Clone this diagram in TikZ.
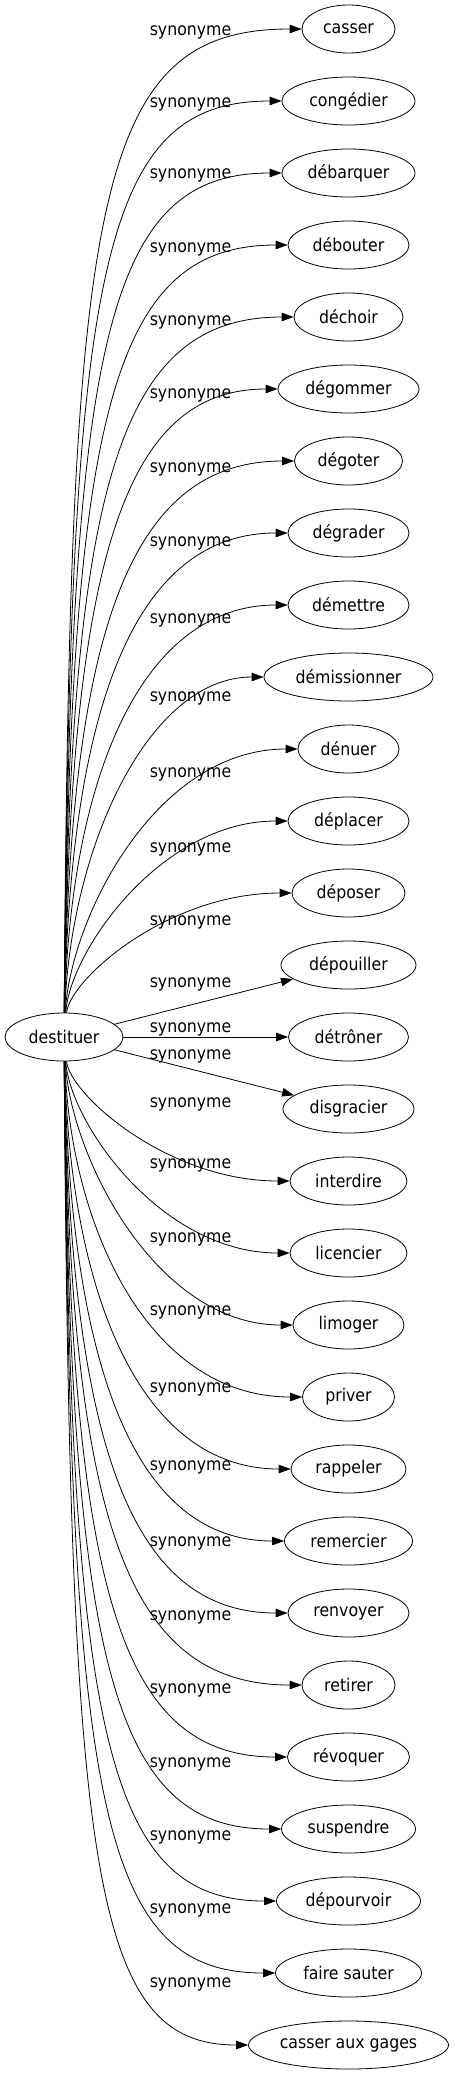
\documentclass[tikz,border=0pt]{standalone}
\usepackage{fontspec}
\setmainfont{DejaVu Sans Condensed}
\usetikzlibrary{arrows.meta,shapes.geometric}

\begin{document}
\begin{tikzpicture}[x=1pt,y=-1pt,
  word/.style={draw,ellipse,minimum height=48pt,inner sep=0pt,line width=0.8pt,font=\fontsize{17.5}{21}\selectfont},
  lbl/.style={inner sep=0pt,anchor=base,font=\fontsize{17.5}{21}\selectfont},
  rel/.style={-{Triangle[length=12pt,width=8.5pt]},line width=0.8pt}]
 \useasboundingbox (0,0) rectangle (455,2075);
 \node[word,minimum width=118pt] (destituer) at (64,1037) {destituer};
 % one synonym per row, 72pt apart
 \foreach \i/\w/\ly/\txt in {0/93/30/casser, 1/133/102/congédier, 2/133/173/débarquer,
   3/121/247/débouter, 4/109/320/déchoir, 5/141/393/dégommer, 6/108/467/dégoter,
   7/121/541/dégrader, 8/121/618/démettre, 9/169/696/démissionner, 10/101/772/dénuer,
   11/121/847/déplacer, 12/113/920/déposer, 13/135/982/dépouiller, 14/120/1027/détrôner,
   15/131/1054/disgracier, 16/117/1102/interdire, 17/117/1163/licencier, 18/111/1237/limoger,
   19/92/1310/priver, 20/115/1387/rappeler, 21/128/1465/remercier, 22/121/1541/renvoyer,
   23/93/1615/retirer, 24/122/1688/révoquer, 25/134/1762/suspendre, 26/144/1835/dépourvoir,
   27/146/1908/faire sauter, 28/200/1982/casser aux gages}
 {
  \pgfmathsetmacro\yt{29+72*\i}
  \node[word,minimum width=\w pt] (t\i) at (348.5,\yt) {\txt};
  \node[lbl] (l\i) at (190.5,\ly+5) {synonyme};
  \pgfmathtruncatemacro\k{\i-14}
  \pgfmathtruncatemacro\ak{abs(\k)}
  \ifnum\ak<2
   \draw[rel] (destituer) -- (t\i);
  \else
   \pgfmathsetmacro\dy{abs(\yt-1037)}
   \pgfmathsetmacro\sg{(\k<0)?1:-1}
   \pgfmathsetmacro\py{\yt+\sg*min(170,0.6*\dy)}
   \pgfmathsetmacro\px{180-0.087*\dy}
   \draw[rel] (destituer) .. controls (70,\py) and (\px,\yt) .. (t\i);
  \fi
 }
\end{tikzpicture}
\end{document}
